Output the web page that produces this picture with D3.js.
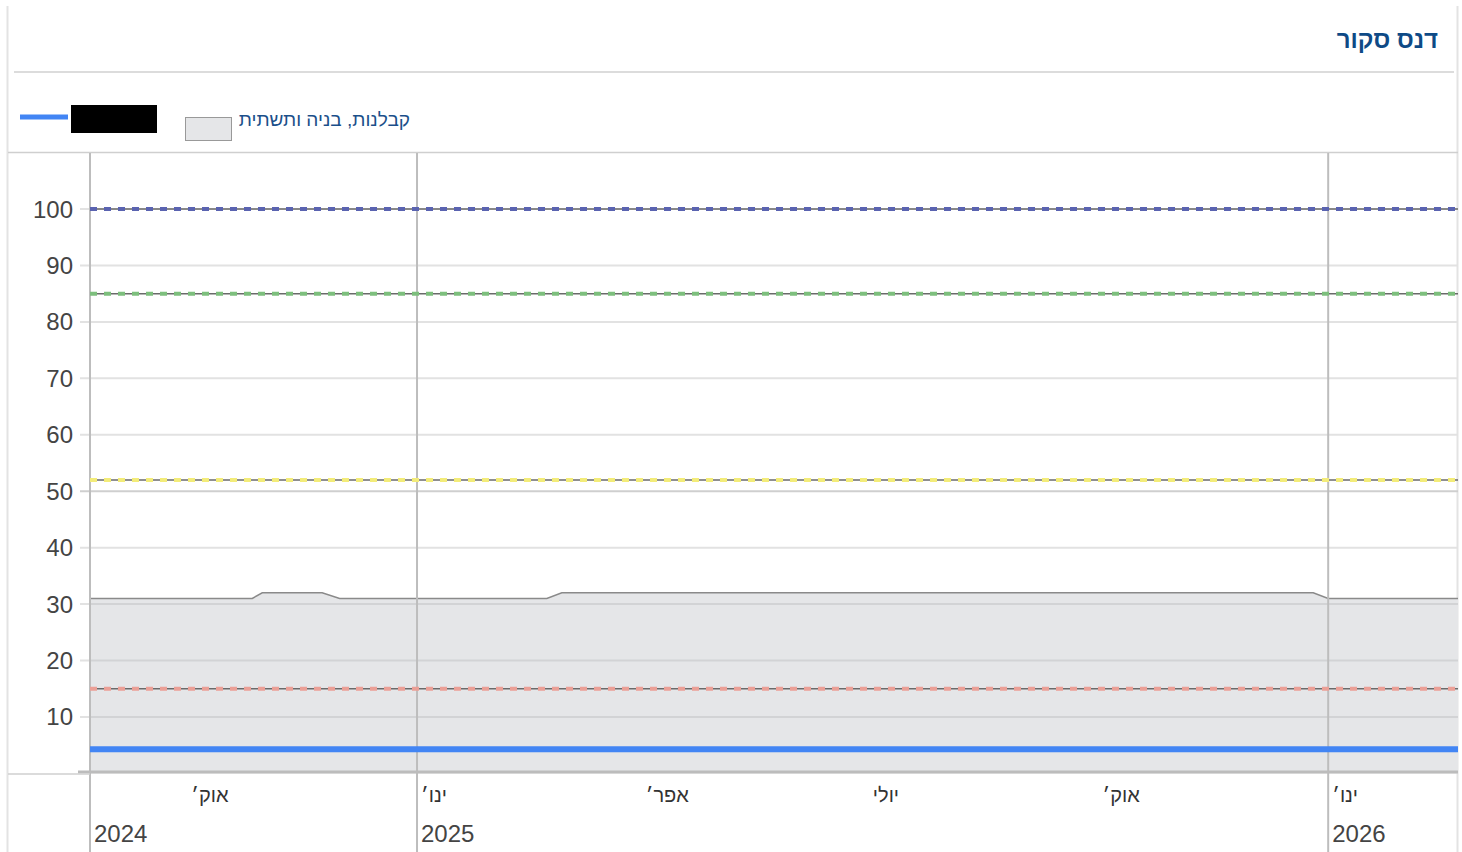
<!DOCTYPE html>
<html>
<head>
<meta charset="utf-8">
<script src="https://cdn.jsdelivr.net/npm/d3@7"></script>
<style>
  body { margin: 0; background: #fff; }
  svg text { font-family: Arial, 'Liberation Sans', sans-serif; }
</style>
</head>
<body>
<div id="chart"></div>
<script>
// data
var areaDates = ['2024-08-23', '2024-10-27', '2024-10-31', '2024-11-24', '2024-12-01',
  '2025-02-22', '2025-02-28', '2025-12-26', '2026-01-01', '2026-02-22']
var areaValues = [31, 31, 32, 32, 31, 31, 32, 32, 31, 31]
var scoreDates = ['2024-08-23', '2026-02-22']
var scoreValues = [4.3, 4.3]
var thresholds = [100, 85, 52, 15]
var thresholdColors = ['#5a63b0', '#7dbf7d', '#f3ec7a', '#eba097']
var yTicks = [10, 20, 30, 40, 50, 60, 70, 80, 90, 100]
var monthTicks = ['2024-10-01', '2025-01-01', '2025-04-01', '2025-07-01', '2025-10-01', '2026-01-01']
var monthLabels = ['אוק׳', 'ינו׳', 'אפר׳', 'יולי', 'אוק׳', 'ינו׳']
var yearTicks = ['2024-08-23', '2025-01-01', '2026-01-01']
var yearLabels = ['2024', '2025', '2026']
var title = 'דנס סקור'
var legendLabel = 'קבלנות, בניה ותשתית'

var width = 1462
var height = 852
var parse = d3.timeParse('%Y-%m-%d')

var svg = d3
  .select('#chart')
  .append('svg')
  .attr('width', width)
  .attr('height', height)

var x = d3.scaleTime()
  .domain([parse('2024-08-23'), parse('2026-02-22')])
  .range([90, 1458])

var y = d3.scaleLinear()
  .domain([0, 100])
  .range([773.4, 209])

// frame
svg.append('line').attr('x1', 7.5).attr('x2', 7.5).attr('y1', 6).attr('y2', height)
  .attr('stroke', '#e3e3e3').attr('stroke-width', 2)
svg.append('line').attr('x1', 1457.5).attr('x2', 1457.5).attr('y1', 6).attr('y2', height)
  .attr('stroke', '#e3e3e3').attr('stroke-width', 2)

// title
svg.append('text')
  .attr('x', 1438).attr('y', 48)
  .attr('text-anchor', 'end')
  .attr('font-size', 24).attr('font-weight', 'bold')
  .attr('fill', '#0e4a86')
  .text(title)

svg.append('line').attr('x1', 14).attr('x2', 1454).attr('y1', 72).attr('y2', 72)
  .attr('stroke', '#dcdcdc').attr('stroke-width', 2)

// legend
svg.append('line').attr('x1', 20).attr('x2', 68).attr('y1', 117).attr('y2', 117)
  .attr('stroke', '#4285f4').attr('stroke-width', 5)
svg.append('rect').attr('x', 71).attr('y', 105).attr('width', 86).attr('height', 28)
  .attr('fill', '#000')
svg.append('rect').attr('x', 185.5).attr('y', 117.5).attr('width', 46).attr('height', 23)
  .attr('fill', '#e5e6e8').attr('stroke', '#999')
svg.append('text')
  .attr('x', 410).attr('y', 126)
  .attr('text-anchor', 'end')
  .attr('font-size', 19)
  .attr('fill', '#1b4f8a')
  .text(legendLabel)

// plot top border
svg.append('line').attr('x1', 8).attr('x2', 1458).attr('y1', 152.5).attr('y2', 152.5)
  .attr('stroke', '#cfcfcf').attr('stroke-width', 1.5)

// gridlines
svg.selectAll('.grid')
  .data(yTicks)
  .enter().append('line')
  .attr('class', 'grid')
  .attr('x1', 80).attr('x2', 1458)
  .attr('y1', d => y(d)).attr('y2', d => y(d))
  .attr('stroke', d => d === 50 ? '#cfcfcf' : '#e2e2e2')
  .attr('stroke-width', 2)

svg.selectAll('.ylabel')
  .data(yTicks)
  .enter().append('text')
  .attr('class', 'ylabel')
  .attr('x', 73).attr('y', d => y(d) + 8.5)
  .attr('text-anchor', 'end')
  .attr('font-size', 24)
  .attr('fill', '#444')
  .text(d => d)

// area series
var areaData = areaDates.map((d, i) => ({ date: parse(d), value: areaValues[i] }))

svg.append('path')
  .datum(areaData)
  .attr('d', d3.area().x(d => x(d.date)).y0(y(0)).y1(d => y(d.value)))
  .attr('fill', '#e5e6e8')

// gridlines inside the area show through slightly darker
svg.selectAll('.grid-in')
  .data(yTicks.filter(d => d < 31))
  .enter().append('line')
  .attr('x1', 90).attr('x2', 1458)
  .attr('y1', d => y(d)).attr('y2', d => y(d))
  .attr('stroke', '#d2d3d5')
  .attr('stroke-width', 2)

svg.append('path')
  .datum(areaData)
  .attr('d', d3.line().x(d => x(d.date)).y(d => y(d.value)))
  .attr('fill', 'none')
  .attr('stroke', '#8a8a8a')
  .attr('stroke-width', 1.5)

// vertical year lines
var vLines = [parse('2024-08-23'), parse('2025-01-01'), parse('2026-01-01')]
svg.selectAll('.vline')
  .data(vLines)
  .enter().append('line')
  .attr('x1', d => x(d)).attr('x2', d => x(d))
  .attr('y1', 153).attr('y2', height)
  .attr('stroke', '#bdbdbd').attr('stroke-width', 2)

// thresholds
thresholds.forEach(function(t, i) {
  svg.append('line')
    .attr('x1', 90).attr('x2', 1458)
    .attr('y1', y(t)).attr('y2', y(t))
    .attr('stroke', '#6a6a6a').attr('stroke-width', 1.5)
  svg.append('line')
    .attr('x1', 90).attr('x2', 1458)
    .attr('y1', y(t)).attr('y2', y(t))
    .attr('stroke', thresholdColors[i]).attr('stroke-width', 4)
    .attr('stroke-dasharray', '7,7')
})

// score line
var scoreData = scoreDates.map((d, i) => ({ date: parse(d), value: scoreValues[i] }))
svg.append('path')
  .datum(scoreData)
  .attr('d', d3.line().x(d => x(d.date)).y(d => y(d.value)))
  .attr('fill', 'none')
  .attr('stroke', '#4285f4')
  .attr('stroke-width', 6)

// x axis baseline
svg.append('line').attr('x1', 78).attr('x2', 1458).attr('y1', 772).attr('y2', 772)
  .attr('stroke', '#bcbcbc').attr('stroke-width', 3)
svg.append('line').attr('x1', 8).attr('x2', 90).attr('y1', 774).attr('y2', 774)
  .attr('stroke', '#cfcfcf').attr('stroke-width', 1.5)

// month labels
svg.selectAll('.mlabel')
  .data(monthTicks)
  .enter().append('text')
  .attr('x', d => x(parse(d)) + 4)
  .attr('y', 802)
  .attr('text-anchor', 'start')
  .attr('font-size', 20)
  .attr('fill', '#333')
  .text((d, i) => monthLabels[i])

// year labels
svg.selectAll('.ylab')
  .data(yearTicks)
  .enter().append('text')
  .attr('x', d => x(parse(d)) + 4)
  .attr('y', 842)
  .attr('text-anchor', 'start')
  .attr('font-size', 24)
  .attr('fill', '#444')
  .text((d, i) => yearLabels[i])
</script>
</body>
</html>
